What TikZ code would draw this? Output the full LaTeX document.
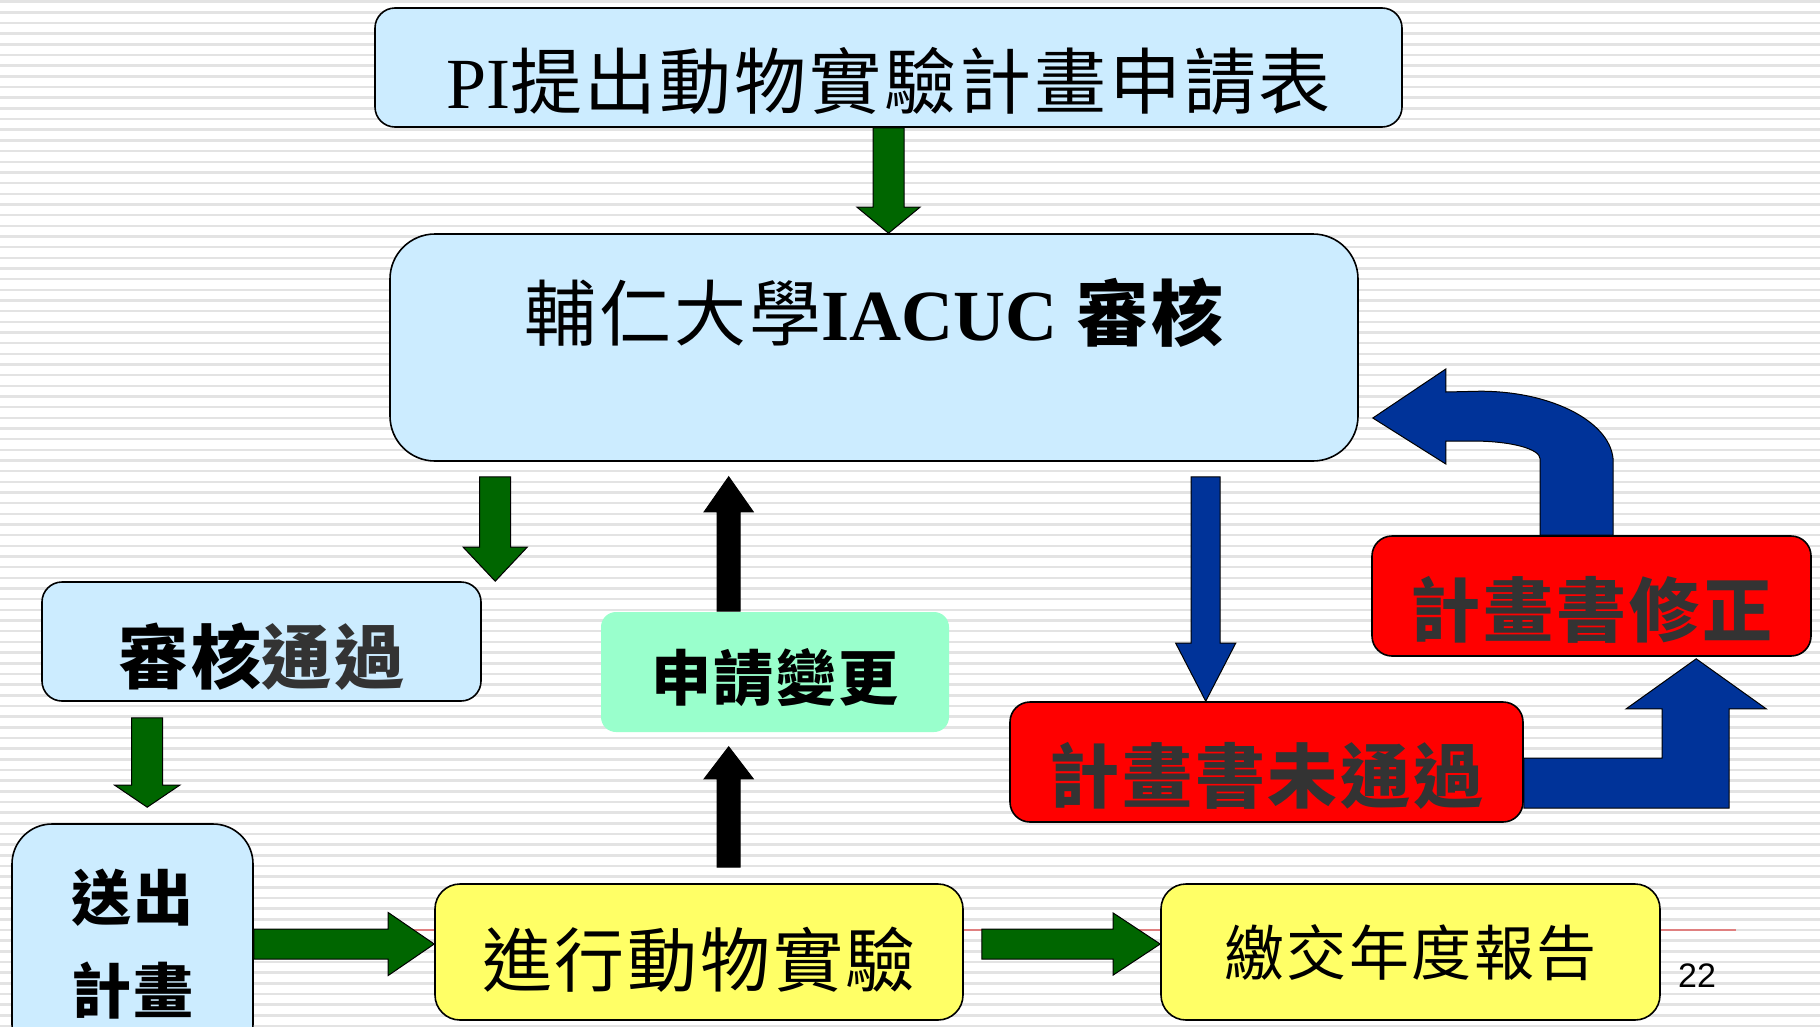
\documentclass[tikz,border=0pt]{standalone}
\usepackage{fontspec}
\setmainfont{Liberation Serif}
\newfontfamily\cjk[LetterSpace=4]{Noto Sans CJK TC}
\newfontfamily\numfont{Liberation Sans}
\usetikzlibrary{calc}
\definecolor{boxblue}{HTML}{CCECFF}
\definecolor{boxyellow}{HTML}{FFFF66}
\definecolor{boxred}{HTML}{FF0000}
\definecolor{boxmint}{HTML}{99FFCC}
\definecolor{arrowgreen}{HTML}{006600}
\definecolor{arrowblue}{HTML}{003399}
\definecolor{txtgray}{HTML}{333333}
\definecolor{stripegray}{HTML}{E3E3E3}
\definecolor{footred}{HTML}{E08080}
% block arrows: style, from, to, half body, half head, head length (sign = direction)
\newcommand{\vblk}[6]{\draw[#1] let \p1=(#2), \p2=(#3) in
  ({\x1-#4},\y1) -- ({\x1-#4},{\y2+(#6)}) -- ({\x1-#5},{\y2+(#6)}) -- (\x1,\y2)
  -- ({\x1+#5},{\y2+(#6)}) -- ({\x1+#4},{\y2+(#6)}) -- ({\x1+#4},\y1) -- cycle;}
\newcommand{\hblk}[6]{\draw[#1] let \p1=(#2), \p2=(#3) in
  (\x1,{\y1+#4}) -- ({\x2-(#6)},{\y1+#4}) -- ({\x2-(#6)},{\y1+#5}) -- (\x2,\y1)
  -- ({\x2-(#6)},{\y1-#5}) -- ({\x2-(#6)},{\y1-#4}) -- (\x1,{\y1-#4}) -- cycle;}

\begin{document}
\begin{tikzpicture}[x=1pt, y=-1pt,
    box/.style={draw=black, line width=1.6pt, rounded corners=#1, inner sep=0pt, align=center},
    txt/.style n args={3}{font=\cjk\fontsize{#1}{#1}\selectfont, text height=#2pt, text depth=#3pt},
    garrow/.style={fill=arrowgreen, draw=black, line width=1pt},
    barrow/.style={fill=arrowblue, draw=black, line width=1pt},
    karrow/.style={fill=black, draw=black, line width=1pt},
    stripe/.style={stripegray, line width=2.5pt}]
  \useasboundingbox (0,0) rectangle (1820,1026);
  \clip (0,0) rectangle (1820,1026);
  % background
  \fill[white] (0,0) rectangle (1820,1026);
  \foreach \k in {0,...,96}
    \draw[stripe] (0,{1.7+10.67*\k}) -- (1820,{1.7+10.67*\k});
  \draw[footred, line width=2pt] (300,930) -- (1736,930);

  % boxes
  \node (top) [box=20pt, fill=boxblue, minimum width=1027pt, txt={72}{100}{19}] at (888.5,67.5)
    {{\rmfamily PI}提出動物實驗計畫申請表};
  \node (iacuc) [box=45pt, fill=boxblue, minimum width=968pt, txt={72}{106}{121}] at (874,347.5)
    {輔仁大學{\rmfamily\bfseries IACUC} {\bfseries 審核}};
  \node (pass) [box=20pt, fill=boxblue, minimum width=439pt, txt={70}{101}{18}] at (261.5,641.5)
    {{\bfseries 審核}{\bfseries\color{txtgray}通過}};
  \node (send) [box=40pt, fill=boxblue, minimum width=241pt, minimum height=240pt,
    font=\cjk\bfseries\fontsize{60}{93}\selectfont] at (132.5,944) {送出\\計畫};
  \node (chg) [box=15pt, draw=none, fill=boxmint, minimum width=348pt, txt={60}{88}{32}] at (775,672)
    {\bfseries 申請變更};
  \node (run) [box=25pt, fill=boxyellow, minimum width=528pt, txt={70}{102}{34}] at (699,952)
    {進行動物實驗};
  \node (rep) [box=25pt, fill=boxyellow, minimum width=499pt, txt={60}{91}{45}] at (1410.5,952)
    {繳交年度報告};
  \node (fail) [box=20pt, fill=boxred, text=txtgray, minimum width=513pt, txt={70}{100}{20}] at (1266.5,762)
    {\bfseries 計畫書未通過};
  \node (fix) [box=20pt, fill=boxred, text=txtgray, minimum width=439pt, txt={70}{100}{20}] at (1591.5,596)
    {\bfseries 計畫書修正};
  \node (pg) [font=\numfont\fontsize{34}{34}\selectfont] at (1697,976) {22};

  % green arrows
  \vblk{garrow}{top.south}{iacuc.north}{15.5pt}{31.5pt}{26pt}
  \coordinate (a2) at ($(iacuc.south west)+(106,15)$);
  \vblk{garrow}{a2}{pass.north}{15.5pt}{32pt}{34pt}
  \coordinate (a3) at ($(pass.south west)+(106,16)$);
  \coordinate (a3e) at ($(send.north)+(0,-16)$);
  \vblk{garrow}{a3}{a3e}{15.5pt}{32.5pt}{22pt}
  \hblk{garrow}{send.east}{run.west}{15pt}{31.5pt}{46pt}
  \coordinate (a5) at ($(run.east)+(18,-8)$);
  \hblk{garrow}{a5}{rep.west}{15pt}{31pt}{47pt}

  % black arrows
  \coordinate (a6) at ($(run.north west)+(294.5,-16)$);
  \coordinate (a6e) at ($(chg.south)+(0,14)$);
  \vblk{karrow}{a6}{a6e}{11.5pt}{24.5pt}{-32pt}
  \coordinate (a7) at ($(chg.north west)+(128.5,0)$);
  \coordinate (a7e) at ($(iacuc.south)+(0,15)$);
  \vblk{karrow}{a7}{a7e}{11.5pt}{24.5pt}{-35pt}

  % blue arrows
  \coordinate (a8) at ($(iacuc.south west)+(816.5,15)$);
  \vblk{barrow}{a8}{fail.north}{14.5pt}{30pt}{58pt}
  \draw[barrow] let \p1=(fail.east), \p2=($(fix.south west)+(325,2)$) in
    (\x1,{\y1+4pt}) -- ({\x2-34pt},{\y1+4pt}) -- ({\x2-34pt},{\y2-50pt}) -- ({\x2-70pt},{\y2-50pt})
    -- (\x2,\y2) -- ({\x2+70pt},{\y2-50pt}) -- ({\x2+33pt},{\y2-50pt}) -- ({\x2+33pt},{\y1-46pt})
    -- (\x1,{\y1-46pt}) -- cycle;
  \draw[barrow] let \p1=($(fix.north west)+(205.5,0)$), \p2=($(iacuc.east)+(14,70.5)$) in
    ({\x1+36.5pt},\y1) -- ({\x1+36.5pt},{\y1+73pt})
    .. controls ({\x1+36.5pt},{\y1+112pt}) and ({\x1-23.5pt},{\y1+144pt}) .. ({\x1-96.5pt},{\y1+144pt})
    -- ({\x2+73pt},{\y2+26pt}) -- ({\x2+73pt},{\y2+49pt}) -- (\x2,\y2) -- ({\x2+73pt},{\y2-46pt})
    -- ({\x2+73pt},{\y2-23pt}) -- ({\x2+99pt},{\y2-23pt})
    .. controls ({\x2+138pt},{\y2-23pt}) and ({\x1-36.5pt},{\y1+86.5pt}) .. ({\x1-36.5pt},{\y1+76pt})
    -- ({\x1-36.5pt},\y1) -- cycle;
\end{tikzpicture}
\end{document}
